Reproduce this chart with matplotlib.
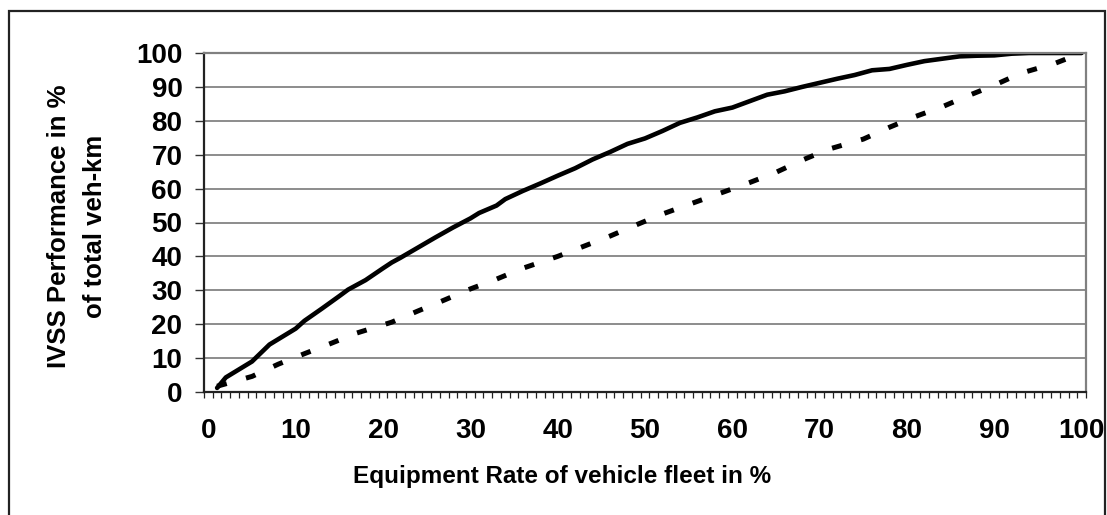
import matplotlib
matplotlib.use("Agg")
import matplotlib.pyplot as plt
from matplotlib.patches import Rectangle
from matplotlib.ticker import MultipleLocator

# equipment rate (%) and IVSS performance (% of total veh-km)
solid_x = [1, 2, 5, 7, 10, 11, 13, 15, 16, 18, 20, 21, 22, 24, 26, 28, 30, 31, 33, 34,
           36, 38, 40, 42, 44, 46, 48, 50, 52, 54, 56, 58, 60, 62, 64, 66, 68, 70, 72,
           74, 76, 78, 80, 82, 84, 86, 88, 90, 92, 94, 100]
solid_y = [1.2, 4.3, 9.0, 14.0, 18.7, 21.0, 24.6, 28.3, 30.2, 33.0, 36.5, 38.2, 39.6, 42.6,
           45.6, 48.5, 51.2, 52.8, 55.0, 56.9, 59.3, 61.5, 63.8, 66.0, 68.6, 70.8, 73.2,
           74.8, 77.0, 79.4, 81.0, 82.8, 83.9, 85.8, 87.7, 88.7, 90.0, 91.2, 92.4, 93.5,
           94.9, 95.3, 96.5, 97.6, 98.3, 99.0, 99.2, 99.3, 99.8, 100.0, 100.0]

dashed_x = [1, 5, 8, 11, 14, 17, 21, 24, 27, 30, 33, 36, 40, 43, 46, 49, 52, 55, 59, 62,
            65, 68, 71, 75, 78, 81, 84, 87, 90, 93, 97, 100]
dashed_y = [1.7, 4.6, 8.2, 11.3, 14.3, 17.4, 20.6, 23.9, 27.1, 30.4, 33.3, 36.5, 40.0,
            43.0, 46.0, 49.3, 52.5, 55.3, 59.0, 61.8, 64.8, 68.4, 71.6, 74.6, 78.1, 81.3,
            84.1, 87.4, 90.5, 94.0, 97.0, 100.0]

xticks = list(range(0, 101, 10))
yticks = list(range(0, 101, 10))

plt.rcParams["font.family"] = ["Liberation Sans", "DejaVu Sans"]
plt.rcParams["font.weight"] = "bold"

W, H = 1107, 515
fig = plt.figure(figsize=(W / 100, H / 100), dpi=100)
ax = fig.add_axes([204 / W, 1 - 392 / H, (1086 - 204) / W, (392 - 53) / H])

# outer frame around the whole chart
fig.patches.append(Rectangle((9 / W, -0.05), (1105 - 9) / W, 1.05 - 11 / H,
                             transform=fig.transFigure, fill=False,
                             edgecolor="#222222", linewidth=1.6))

ax.plot(solid_x, solid_y, color="black", linewidth=3.3, solid_capstyle="round")
ax.plot(dashed_x, dashed_y, color="black", linewidth=3.6, linestyle=(0, (2.0, 4.0)))

ax.set_xlim(-0.5, 100.5)
ax.set_ylim(0, 100)

ax.set_yticks(yticks)
ax.yaxis.grid(True, color="#6e6e6e", linewidth=1.1)
ax.set_axisbelow(True)
ax.tick_params(axis="y", length=6.5, width=1.0, color="#333333", pad=9, labelsize=20)

ax.set_xticks(xticks)
ax.xaxis.set_minor_locator(MultipleLocator(1, offset=0.5))
ax.tick_params(axis="x", which="major", length=0, pad=19, labelsize=20)
ax.tick_params(axis="x", which="minor", length=4.5, width=0.9, color="#222222")

for side in ("top", "right"):
    ax.spines[side].set_color("#808080")
    ax.spines[side].set_linewidth(1.6)
for side in ("left", "bottom"):
    ax.spines[side].set_color("#222222")
    ax.spines[side].set_linewidth(1.6)

ax.set_xlabel("Equipment Rate of vehicle fleet in %", fontsize=17.5, fontweight="bold",
              x=(562 - 204) / 882, labelpad=15)
fig.text(77 / W, 1 - 226 / H, "IVSS Performance in %\nof total veh-km", rotation=90,
         ha="center", va="center", ma="center", fontsize=18.5, fontweight="bold",
         linespacing=1.6)

fig.savefig("out.png", dpi=100)
